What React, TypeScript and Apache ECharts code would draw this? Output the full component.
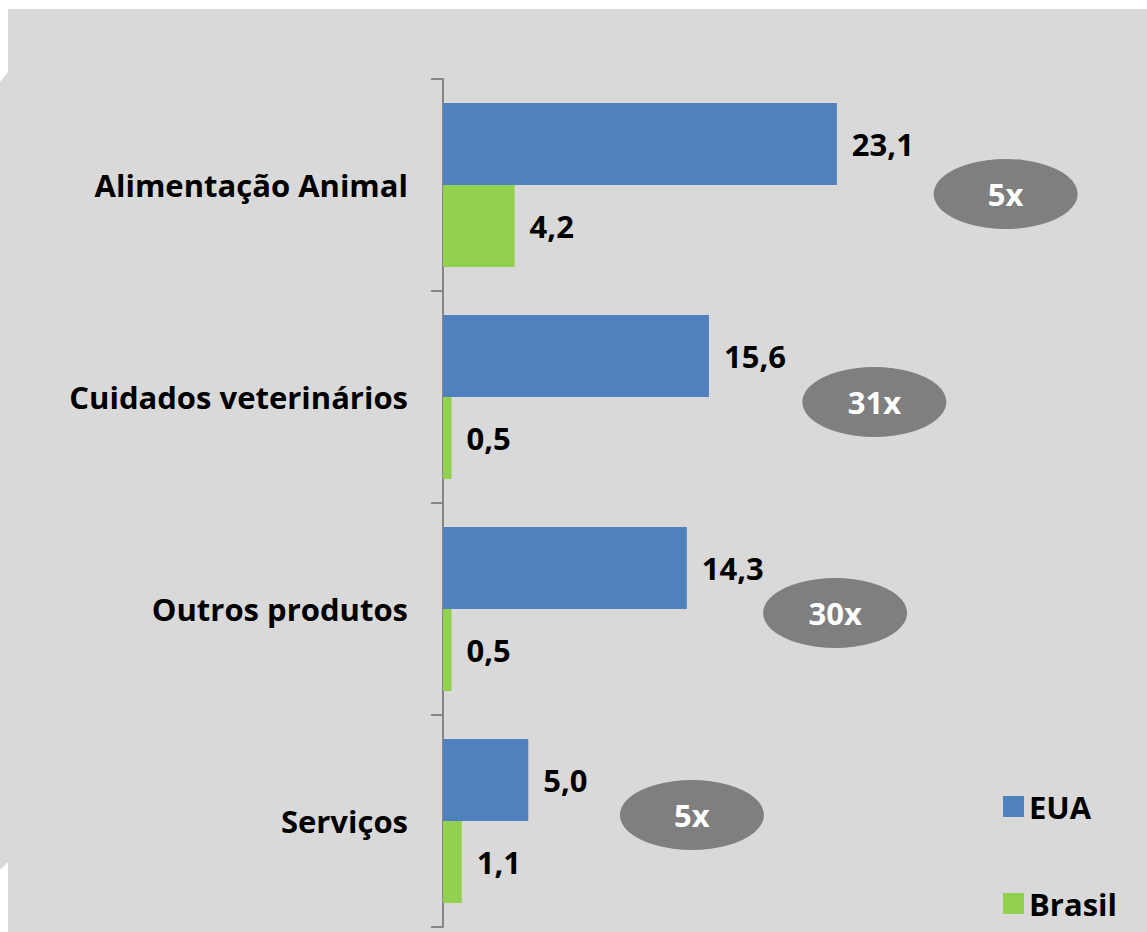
import React, { useEffect, useRef } from "react";
import * as echarts from "echarts";

const categories = ["Alimentação Animal", "Cuidados veterinários", "Outros produtos", "Serviços"];
const euaValues = [23.1, 15.6, 14.3, 5.0];
const brasilValues = [4.2, 0.5, 0.5, 1.1];
const ratioLabels = ["5x", "31x", "30x", "5x"];
// horizontal placement of the ratio bubbles, in axis units
const ratioPositions = [33.0, 25.3, 23.0, 14.6];

const FONT = "'Open Sans', 'Noto Sans', sans-serif";
const bubbleOffsetY = [9, 5, 4, -6];

export default function App() {
  const ref = useRef<HTMLDivElement>(null);
  useEffect(() => {
    if (!ref.current) return;
    const chart = echarts.init(ref.current, null, { renderer: "svg" });
    const fmt = (v: number) => v.toFixed(1).replace(".", ",");
    const valueLabel = {
      show: true,
      position: "right",
      distance: 15,
      formatter: (p: any) => fmt(p.value),
      fontSize: 31,
      fontWeight: "bold",
      color: "#000",
      fontFamily: FONT,
    };
    chart.setOption({
      animation: false,
      backgroundColor: "#ffffff",
      textStyle: { fontFamily: FONT },
      graphic: [
        {
          type: "polygon",
          z: -10,
          silent: true,
          shape: {
            points: [
              [8, 9], [1147, 9], [1147, 932], [8, 932], [8, 862], [0, 870], [0, 82], [8, 72],
            ],
          },
          style: { fill: "#d9d9d9" },
        },
      ],
      legend: {
        data: ["EUA", "Brasil"],
        orient: "vertical",
        left: 998,
        top: 786,
        itemWidth: 21,
        itemHeight: 21,
        itemGap: 66,
        icon: "rect",
        textStyle: { fontSize: 31, fontWeight: "bold", color: "#000", fontFamily: FONT },
      },
      grid: { left: 443, top: 79, width: 682, height: 848, containLabel: false },
      xAxis: {
        type: "value",
        min: 0,
        max: 40,
        show: false,
      },
      yAxis: {
        type: "category",
        data: categories,
        inverse: true,
        axisLine: { show: true, lineStyle: { color: "#868686", width: 2 } },
        axisTick: { show: true, length: 12, lineStyle: { color: "#868686", width: 2 } },
        axisLabel: {
          margin: 35,
          fontSize: 31,
          fontWeight: "bold",
          color: "#000",
          fontFamily: FONT,
        },
      },
      series: [
        {
          name: "EUA",
          type: "bar",
          data: euaValues,
          barGap: "0%",
          barCategoryGap: "22.6%",
          itemStyle: { color: "#4f81bd" },
          label: valueLabel,
        },
        {
          name: "Brasil",
          type: "bar",
          data: brasilValues,
          itemStyle: { color: "#92d050" },
          label: valueLabel,
        },
        {
          name: "ratio",
          type: "scatter",
          z: 5,
          data: ratioPositions.map((x, i) => ({
            value: [x, i],
            symbolOffset: [0, bubbleOffsetY[i]],
          })),
          symbol: "circle",
          symbolSize: [144, 70],
          itemStyle: { color: "#7f7f7f", opacity: 1 },
          label: {
            show: true,
            position: "inside",
            formatter: (p: any) => ratioLabels[p.dataIndex],
            fontSize: 31,
            fontWeight: "bold",
            color: "#ffffff",
            fontFamily: FONT,
          },
          emphasis: { disabled: true },
        },
      ],
    });
    return () => chart.dispose();
  }, []);
  return (
    <div
      ref={ref}
      style={{ position: "absolute", left: 0, top: 0, width: 1147, height: 932 }}
    />
  );
}
